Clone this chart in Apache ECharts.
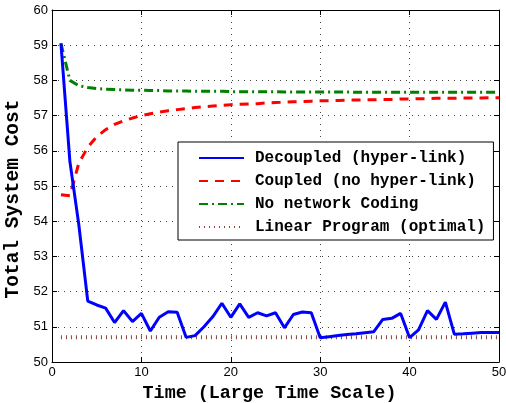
<!DOCTYPE html>
<html>
<head>
<meta charset="utf-8">
<script src="https://cdn.jsdelivr.net/npm/echarts@6/dist/echarts.min.js"></script>
<style>
  html, body { margin: 0; padding: 0; background: #fff; }
  #chart { width: 506px; height: 403px; }
</style>
</head>
<body>
<div id="chart"></div>
<script>
const times = [];
for (let t = 1; t <= 50; t++) times.push(t);

const decoupled = [
  59.05, 55.7, 53.9, 51.73, 51.62, 51.53, 51.12, 51.46, 51.15, 51.38,
  50.88, 51.27, 51.43, 51.41, 50.70, 50.75, 51.0, 51.29, 51.67, 51.27,
  51.65, 51.27, 51.40, 51.31, 51.40, 50.97, 51.35, 51.42, 51.40, 50.69,
  50.72, 50.75, 50.78, 50.80, 50.83, 50.86, 51.21, 51.24, 51.38, 50.69,
  50.91, 51.46, 51.21, 51.70, 50.79, 50.80, 50.82, 50.84, 50.84, 50.84
];

const coupled = [
  54.75, 54.72, 55.65, 56.1, 56.4, 56.6, 56.75, 56.85, 56.93, 57.0,
  57.05, 57.1, 57.14, 57.17, 57.2, 57.23, 57.25, 57.27, 57.29, 57.31,
  57.32, 57.33, 57.34, 57.36, 57.37, 57.38, 57.39, 57.40, 57.41, 57.42,
  57.42, 57.43, 57.44, 57.44, 57.45, 57.45, 57.46, 57.46, 57.47, 57.47,
  57.48, 57.48, 57.49, 57.49, 57.49, 57.50, 57.50, 57.50, 57.51, 57.51
];

const noCoding = [
  59.05, 58.0, 57.85, 57.8, 57.77, 57.75, 57.74, 57.73, 57.72, 57.72,
  57.71, 57.71, 57.70, 57.70, 57.70, 57.69, 57.69, 57.69, 57.69, 57.68,
  57.68, 57.68, 57.68, 57.68, 57.68, 57.67, 57.67, 57.67, 57.67, 57.67,
  57.67, 57.67, 57.67, 57.66, 57.66, 57.66, 57.66, 57.66, 57.66, 57.66,
  57.66, 57.66, 57.66, 57.66, 57.66, 57.66, 57.66, 57.66, 57.66, 57.66
];

const linearProgram = times.map(() => 50.7);

const names = [
  'Decoupled (hyper-link)',
  'Coupled (no hyper-link)',
  'No network Coding',
  'Linear Program (optimal)'
];

const pairs = (ys) => times.map((t, i) => [t, ys[i]]);

const chart = echarts.init(document.getElementById('chart'));

const tickFont = { fontFamily: 'Liberation Sans', fontSize: 13, color: '#000' };
const monoBold = { fontFamily: 'Liberation Mono', fontWeight: 'bold', color: '#000' };

const option = {
  backgroundColor: '#fff',
  animation: false,
  grid: { left: 52, right: 7, top: 10, bottom: 41, outerBoundsMode: 'none', containLabel: false },
  legend: {
    orient: 'vertical',
    left: 178,
    top: 142,
    width: 317,
    backgroundColor: '#fff',
    borderColor: '#000',
    borderWidth: 1,
    borderRadius: 0,
    padding: [8, 8, 5, 20],
    itemWidth: 45,
    itemHeight: 14,
    itemGap: 7,
    data: names,
    itemStyle: { color: 'transparent', borderWidth: 0, opacity: 0 },
    textStyle: Object.assign({ fontSize: 16, padding: [0, 0, 0, 6] }, monoBold)
  },
  xAxis: [
    {
      type: 'value', min: 0, max: 50, interval: 10,
      name: 'Time (Large Time Scale)',
      nameLocation: 'middle', nameGap: 22,
      nameTextStyle: Object.assign({ fontSize: 18.4, padding: [0, 12, 0, 0] }, monoBold),
      axisLine: { lineStyle: { color: '#000', width: 1 } },
      axisTick: { inside: true, length: 5, lineStyle: { color: '#000' } },
      axisLabel: Object.assign({ margin: 4 }, tickFont),
      splitLine: { show: true, lineStyle: { color: '#444', type: [1, 5], width: 1 } }
    },
    {
      type: 'value', min: 0, max: 50, interval: 10, position: 'top',
      axisLine: { onZero: false, lineStyle: { color: '#000', width: 1 } },
      axisTick: { inside: true, length: 5, lineStyle: { color: '#000' } },
      axisLabel: { show: false },
      splitLine: { show: false }
    }
  ],
  yAxis: [
    {
      type: 'value', min: 50, max: 60, interval: 1,
      name: 'Total System Cost',
      nameLocation: 'middle', nameGap: 19,
      nameTextStyle: Object.assign({ fontSize: 19.5, padding: [0, 26, 0, 0] }, monoBold),
      axisLine: { show: true, lineStyle: { color: '#000', width: 1 } },
      axisTick: { show: true, inside: true, length: 5, lineStyle: { color: '#000' } },
      axisLabel: Object.assign({ margin: 4 }, tickFont),
      splitLine: { show: true, lineStyle: { color: '#444', type: [1, 5], width: 1 } }
    },
    {
      type: 'value', min: 50, max: 60, interval: 1, position: 'right',
      axisLine: { show: true, onZero: false, lineStyle: { color: '#000', width: 1 } },
      axisTick: { show: true, inside: true, length: 5, lineStyle: { color: '#000' } },
      axisLabel: { show: false },
      splitLine: { show: false }
    }
  ],
  series: [
    {
      name: names[0], type: 'line', symbol: 'none', z: 5,
      data: pairs(decoupled),
      lineStyle: { color: '#0000ff', width: 3 },
      itemStyle: { color: '#0000ff' }
    },
    {
      name: names[1], type: 'line', symbol: 'none', z: 4,
      data: pairs(coupled),
      lineStyle: { color: '#ff0000', width: 3, type: [9, 7] },
      itemStyle: { color: '#ff0000' }
    },
    {
      name: names[2], type: 'line', symbol: 'none', z: 3,
      data: pairs(noCoding),
      lineStyle: { color: '#008000', width: 3, type: [9, 4, 2, 4] },
      itemStyle: { color: '#008000' }
    },
    {
      name: names[3], type: 'line', symbol: 'none', z: 2,
      data: pairs(linearProgram),
      lineStyle: { color: '#8a4545', width: 4, type: [1, 4] },
      itemStyle: { color: '#8a4545' }
    }
  ]
};

chart.setOption(option);
</script>
</body>
</html>
